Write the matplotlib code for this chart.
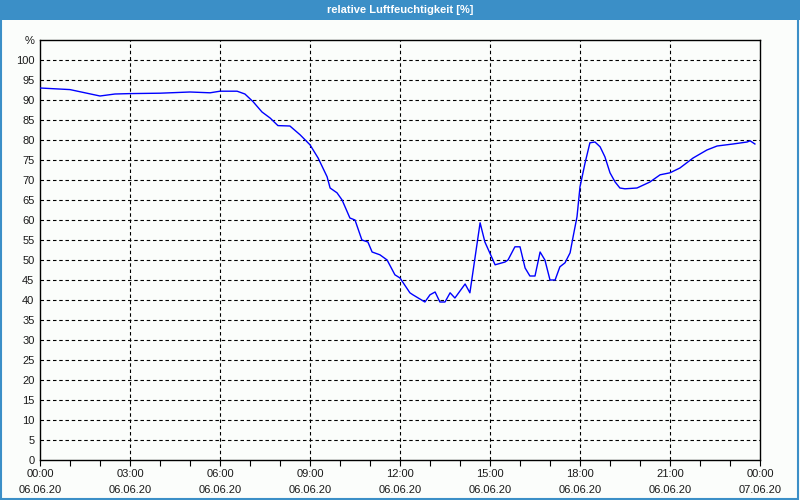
import matplotlib
matplotlib.use("Agg")
import matplotlib.pyplot as plt
from matplotlib.patches import Rectangle

plt.rcParams['font.family'] = ['Liberation Sans', 'DejaVu Sans']
plt.rcParams['lines.scale_dashes'] = False

title = "relative Luftfeuchtigkeit [%]"

# time in hours after 06.06.20 00:00, relative humidity in %
hours = [0.0, 1.0, 2.0, 2.5, 3.0, 4.0, 5.0, 5.67, 6.0, 6.57, 6.83, 7.1, 7.4, 7.67,
         7.93, 8.33, 8.67, 9.0, 9.27, 9.43, 9.57, 9.67, 9.9, 10.07, 10.33, 10.5,
         10.73, 10.93, 11.07, 11.33, 11.57, 11.83, 12.0, 12.33, 12.43, 12.83,
         13.0, 13.17, 13.33, 13.5, 13.67, 13.83, 14.17, 14.33, 14.67, 14.83,
         15.17, 15.5, 15.6, 15.83, 16.0, 16.17, 16.33, 16.5, 16.67, 16.83, 17.0,
         17.17, 17.33, 17.5, 17.67, 17.77, 17.9, 18.0, 18.17, 18.33, 18.5, 18.67,
         18.83, 19.0, 19.17, 19.33, 19.5, 19.9, 20.33, 20.67, 21.0, 21.33, 21.77,
         22.23, 22.57, 23.1, 23.57, 23.67, 23.83]
humidity = [93.0, 92.6, 91.0, 91.5, 91.6, 91.7, 92.0, 91.8, 92.2, 92.2, 91.5, 89.6,
            87.0, 85.5, 83.6, 83.5, 81.3, 78.8, 75.5, 73.0, 70.8, 68.0, 66.8, 65.0,
            60.5, 60.0, 55.0, 54.5, 52.0, 51.3, 50.0, 46.3, 45.5, 41.8, 41.3, 39.5,
            41.3, 42.0, 39.5, 39.5, 41.8, 40.5, 44.0, 41.8, 59.3, 54.5, 48.8, 49.5,
            50.0, 53.3, 53.3, 48.0, 46.0, 46.0, 52.0, 50.0, 45.0, 45.0, 48.3, 49.3,
            51.8, 55.8, 60.8, 68.3, 74.3, 79.3, 79.5, 78.3, 75.8, 71.8, 69.5, 68.0,
            67.8, 68.0, 69.5, 71.3, 71.8, 73.0, 75.5, 77.5, 78.5, 79.0, 79.5, 79.8,
            79.0]

x_ticks = [0, 3, 6, 9, 12, 15, 18, 21, 24]
x_labels = ["00:00\n06.06.20", "03:00\n06.06.20", "06:00\n06.06.20", "09:00\n06.06.20",
            "12:00\n06.06.20", "15:00\n06.06.20", "18:00\n06.06.20", "21:00\n06.06.20",
            "00:00\n07.06.20"]
y_ticks = list(range(0, 101, 5))

bg = '#fbfdfb'
bar_blue = '#3b8fc7'
txt = '#1a1a1a'

fig = plt.figure(figsize=(8, 5), dpi=100, facecolor=bg)
# title bar
fig.patches.append(Rectangle((0, 1 - 20/500), 1, 20/500, transform=fig.transFigure,
                             facecolor=bar_blue, edgecolor='none', zorder=0))
# outer frame
fig.patches.append(Rectangle((0.001, 0.002), 0.997, 0.996, transform=fig.transFigure,
                             facecolor='none', edgecolor=bar_blue, linewidth=1.5, zorder=1))
fig.text(0.5, 1 - 10/500, title, color='white', ha='center', va='center',
         fontsize=8, fontweight='bold')

ax = fig.add_axes([40/800, 40/500, 720/800, 420/500])
ax.set_facecolor(bg)
ax.plot(hours, humidity, color='#0000ff', linewidth=1.0, zorder=3)

ax.set_xlim(0, 24)
ax.set_ylim(0, 105)
ax.set_xticks(x_ticks)
ax.set_xticklabels(x_labels, linespacing=1.75)
ax.set_xticks(range(0, 25), minor=True)
ax.set_yticks(y_ticks + [105])
ax.set_yticklabels([str(v) for v in y_ticks] + ['%'])

ax.tick_params(axis='x', which='both', direction='out', length=4, width=0.8,
               color='black', labelsize=8, labelcolor=txt, pad=2.5)
ax.tick_params(axis='y', which='both', length=0, labelsize=8, labelcolor=txt, pad=4)

for v in y_ticks[1:]:
    ax.axhline(v, color='black', linewidth=0.8, dashes=(2.5, 2.0), zorder=1)
for h in x_ticks[1:-1]:
    ax.axvline(h, color='black', linewidth=0.8, dashes=(2.5, 2.0), zorder=1)

for s in ax.spines.values():
    s.set_color('black')
    s.set_linewidth(1.0)

fig.savefig('out.png', dpi=100, facecolor=bg)
